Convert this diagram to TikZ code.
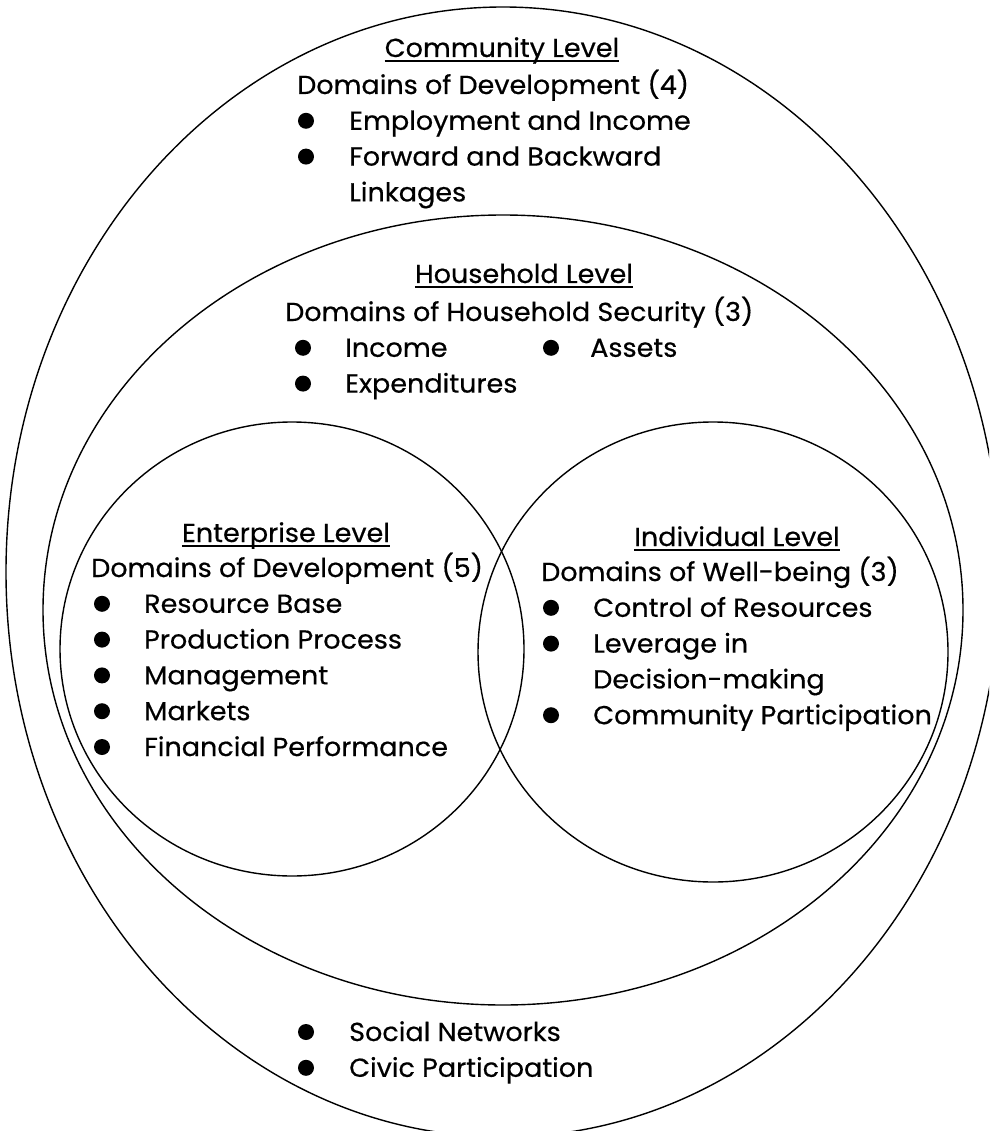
\documentclass[tikz,border=0pt]{standalone}
\usepackage{fontspec}
\setmainfont{Poppins}[FakeStretch=1.04, FakeBold=0.5]

\tikzset{
    ring/.style = {line width=1.4pt},
    level/.style = {inner sep=0pt, anchor=base},
    entry/.style = {inner sep=0pt, anchor=base west},
    dot/.style = {circle, fill=black, inner sep=0pt, minimum size=16pt},
    uline/.style = {line width=2.2pt}
}

\begin{document}
\begin{tikzpicture}[x=1pt, y=-1pt, font=\fontsize{26}{36}\selectfont]
    \clip (0,0) rectangle (989,1131);

    % levels
    \draw[ring] (503,572) ellipse [x radius=497, y radius=565];
    \draw[ring] (503,610) ellipse [x radius=460, y radius=395];
    \draw[ring] (292,649) ellipse [x radius=232, y radius=227];
    \draw[ring] (713,652) ellipse [x radius=235, y radius=230];

    % community
    \node[level] (comm) at (502,57) {Community Level};
    \draw[uline] ([yshift=-4pt]comm.base west) -- ([yshift=-4pt]comm.base east);
    \node[entry] (commdom) at (297,94) {Domains of Development (4)};
    \foreach \t [count=\i] in {Employment and Income, Forward and Backward} {
        \node[dot] (commb\i) at (306,94+35.8*\i-9) {};
        \node[entry] (commi\i) at (349,94+35.8*\i) {\t};
    }
    \node[entry] (commi3) at (349,94+35.8*3) {Linkages};

    % household
    \node[level] (hh) at (524,283) {Household Level};
    \draw[uline] ([yshift=-4pt]hh.base west) -- ([yshift=-4pt]hh.base east);
    \node[entry] (hhdom) at (285,321) {Domains of Household Security (3)};
    \node[dot] (hhb1) at (303,347.8) {};
    \node[entry] (hhi1) at (345,356.8) {Income};
    \node[dot] (hhb2) at (551,347.8) {};
    \node[entry] (hhi2) at (590,356.8) {Assets};
    \node[dot] (hhb3) at (303,383.6) {};
    \node[entry] (hhi3) at (345,392.6) {Expenditures};

    % enterprise
    \node[level] (ent) at (286,542) {Enterprise Level};
    \draw[uline] ([yshift=-4pt]ent.base west) -- ([yshift=-4pt]ent.base east);
    \node[entry] (entdom) at (91,577) {Domains of Development (5)};
    \foreach \t [count=\i] in {Resource Base, Production Process, Management,
        Markets, Financial Performance} {
        \node[dot] (entb\i) at (102,577+35.8*\i-9) {};
        \node[entry] (enti\i) at (144,577+35.8*\i) {\t};
    }

    % individual
    \node[level] (ind) at (737,546) {Individual Level};
    \draw[uline] ([yshift=-4pt]ind.base west) -- ([yshift=-4pt]ind.base east);
    \node[entry] (inddom) at (541,581) {Domains of Well-being (3)};
    \node[dot] (indb1) at (551,607.8) {};
    \node[entry] (indi1) at (593,616.8) {Control of Resources};
    \node[dot] (indb2) at (551,643.6) {};
    \node[entry] (indi2) at (593,652.6) {Leverage in};
    \node[entry] (indi3) at (593,688.4) {Decision-making};
    \node[dot] (indb3) at (551,715.2) {};
    \node[entry] (indi4) at (593,724.2) {Community Participation};

    % community, continued
    \node[dot] (socb1) at (306,1032) {};
    \node[entry] (soci1) at (349,1041) {Social Networks};
    \node[dot] (socb2) at (306,1067.8) {};
    \node[entry] (soci2) at (349,1076.8) {Civic Participation};
\end{tikzpicture}
\end{document}
